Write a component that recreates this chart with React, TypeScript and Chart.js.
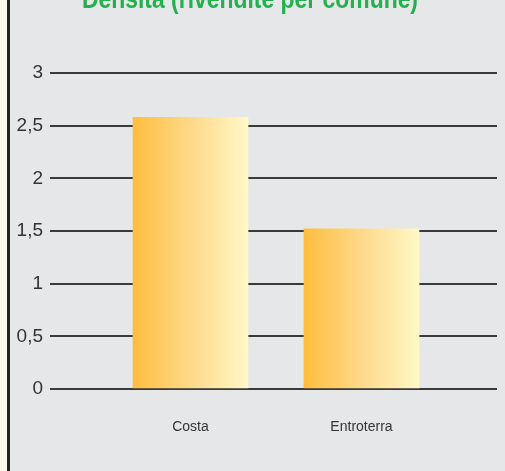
import React, { useEffect, useRef } from "react";
import { Chart, registerables } from "chart.js";

Chart.register(...registerables);

const titleText = "Densità (rivendite per comune)";
const categories = ["Costa", "Entroterra"];
const values = [2.58, 1.52];
const yTicks = [0, 0.5, 1, 1.5, 2, 2.5, 3];

const SANS = "'Liberation Sans', Arial, Helvetica, sans-serif";

const titlePlugin = {
  id: "cutTitle",
  afterDraw(chart: any) {
    const ctx = chart.ctx;
    ctx.save();
    ctx.font = `bold 28px ${SANS}`;
    ctx.fillStyle = "#22b14c";
    ctx.textAlign = "center";
    ctx.textBaseline = "alphabetic";
    ctx.translate(240, 8);
    ctx.scale(0.818, 1);
    ctx.fillText(titleText, 0, 0);
    ctx.restore();
  },
};

export default function App() {
  const ref = useRef<HTMLCanvasElement | null>(null);

  useEffect(() => {
    document.body.style.margin = "0";
    const canvas = ref.current;
    if (!canvas) return;
    const barW = 115;
    const chart = new Chart(canvas, {
      type: "bar",
      data: {
        datasets: [
          {
            data: values.map((v, i) => ({ x: i, y: v })),
            barThickness: barW,
            borderWidth: 0,
            backgroundColor: (c: any) => {
              const ch = c.chart;
              const xs = ch.scales?.x;
              if (!xs || !ch.chartArea || c.dataIndex === undefined) return "#fdd98a";
              const cx = xs.getPixelForValue(c.dataIndex);
              const g = ch.ctx.createLinearGradient(cx - barW / 2, 0, cx + barW / 2, 0);
              g.addColorStop(0, "#ffbd3e");
              g.addColorStop(0.5, "#fdd98a");
              g.addColorStop(1, "#fff8c6");
              return g;
            },
          } as any,
        ],
      },
      options: {
        animation: false,
        responsive: false,
        devicePixelRatio: 1,
        layout: { padding: { top: 73, right: 8, bottom: 0, left: 0 } },
        plugins: {
          legend: { display: false },
          tooltip: { enabled: false },
          title: { display: false },
        },
        scales: {
          x: {
            type: "linear",
            offset: false,
            min: -0.8216,
            max: 1.7924,
            grid: { display: false, drawTicks: false },
            border: { display: false },
            afterBuildTicks: (s: any) => {
              s.ticks = categories.map((_, i) => ({ value: i }));
            },
            afterFit: (s: any) => {
              s.height = 82;
            },
            ticks: {
              padding: 30,
              autoSkip: false,
              maxRotation: 0,
              color: "#333333",
              font: { family: SANS, size: 14 },
              callback: (v: any) => categories[v] ?? "",
            },
          },
          y: {
            min: 0,
            max: 3,
            afterBuildTicks: (s: any) => {
              s.ticks = yTicks.map((v) => ({ value: v }));
            },
            afterFit: (s: any) => {
              s.width = 40;
            },
            grid: { color: "#3a3a3a", lineWidth: 2, drawTicks: false },
            border: { display: false },
            ticks: {
              padding: 7,
              color: "#333333",
              font: { family: SANS, size: 19 },
              callback: (v: any) => String(v).replace(".", ","),
            },
          },
        },
      } as any,
      plugins: [titlePlugin],
    });
    return () => chart.destroy();
  }, []);

  return (
    <div style={{ background: "#fbf8ed", paddingLeft: 7, width: 498, height: 471 }}>
      <div
        style={{
          borderLeft: "3px solid #222222",
          background: "#e6e7e9",
          width: 495,
          height: 471,
        }}
      >
        <canvas ref={ref} width={495} height={471} style={{ display: "block" }} />
      </div>
    </div>
  );
}
